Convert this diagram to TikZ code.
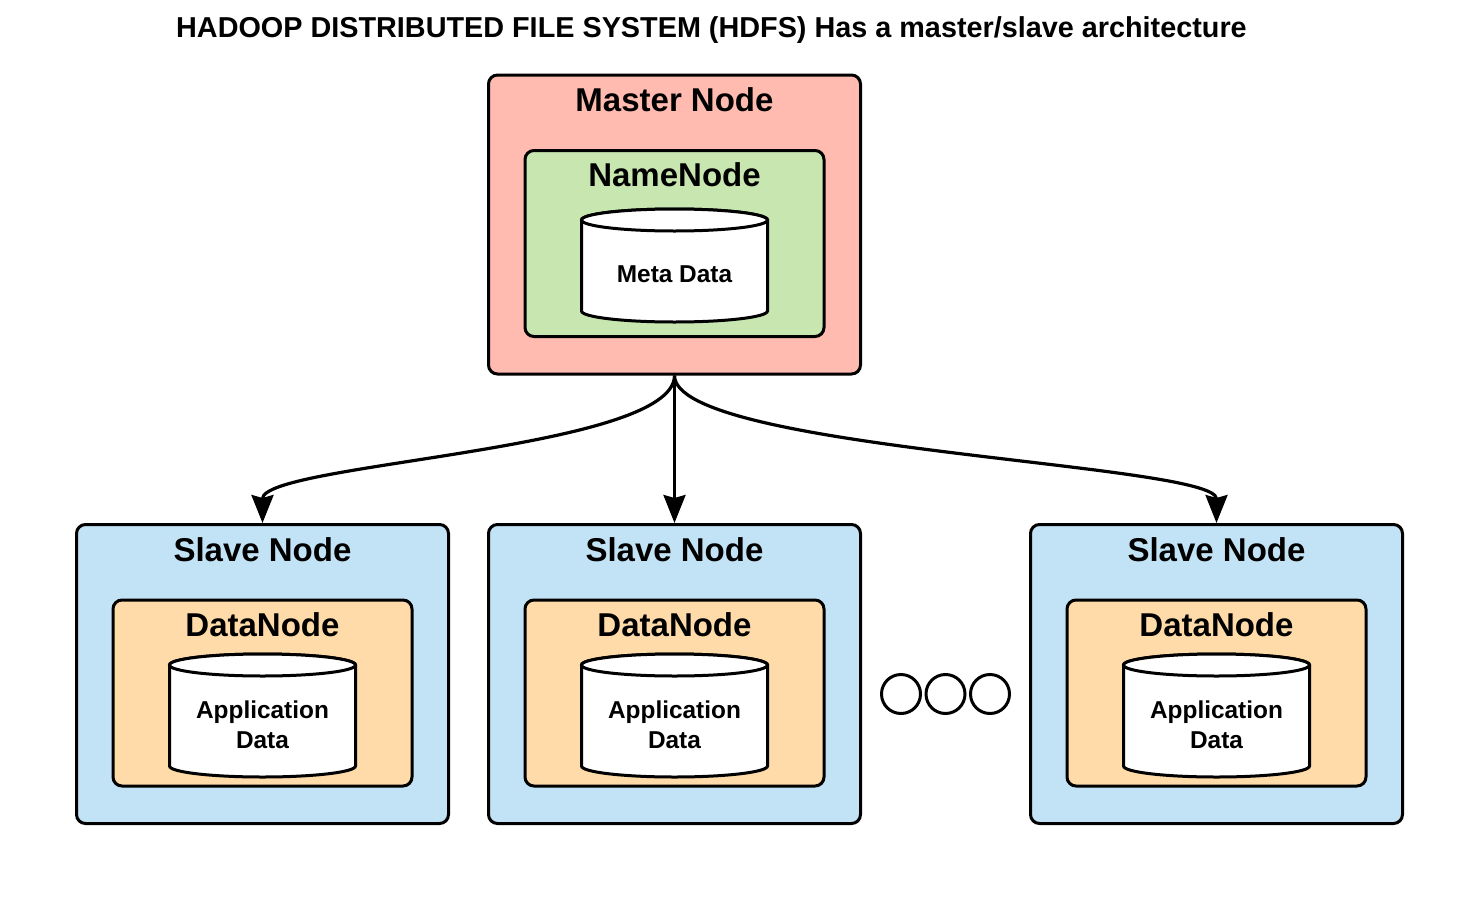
\documentclass[tikz,border=0pt]{standalone}
\usepackage{fontspec}
\setmainfont{Liberation Sans}
\usetikzlibrary{arrows.meta}
\definecolor{masterfill}{HTML}{FFBBB0}
\definecolor{namefill}{HTML}{C8E6B0}
\definecolor{slavefill}{HTML}{C2E3F5}
\definecolor{datafill}{HTML}{FEDBA8}
\newcommand\dbcyl[4]{% cx, top center y, bottom center y, name
  \filldraw[cylline] (#1-93,#2) -- (#1-93,#3)
    arc[start angle=180,end angle=360,x radius=46.5pt,y radius=5.5pt]
    -- (#1+93,#2)
    arc[start angle=0,end angle=180,x radius=46.5pt,y radius=5.5pt] -- cycle;
  \draw[cylline] (#1,#2) ellipse[x radius=46.5pt,y radius=5.5pt];
  \coordinate (#4) at (#1,#2);
}
\begin{document}
\begin{tikzpicture}[x=0.5pt,y=-0.5pt,
  box/.style={draw=black,line width=1.5pt,rounded corners=4.5pt,rectangle,inner sep=0pt},
  outerbox/.style={box,minimum width=186pt,minimum height=149.5pt},
  innerbox/.style={box,minimum width=149.5pt,minimum height=93pt},
  cylline/.style={draw=black,fill=white,line width=1.5pt},
  bigtxt/.style={font=\bfseries\fontsize{16.5pt}{19pt}\selectfont,anchor=base,inner sep=0pt},
  smalltxt/.style={font=\bfseries\fontsize{12.2pt}{15pt}\selectfont,inner sep=0pt,align=center},
  conn/.style={draw=black,line width=1.6pt,-{Stealth[length=14pt,width=11pt,inset=1.5pt]}},
  dotc/.style={circle,draw=black,line width=1.5pt,minimum size=19.5pt,inner sep=0pt}
]
\useasboundingbox (0,0) rectangle (1479,900);
\fill[white] (0,0) rectangle (1479,900);

\node[font=\bfseries\fontsize{14.4pt}{17pt}\selectfont,anchor=base,inner sep=0pt] (title) at (711.5,37.5)
  {HADOOP DISTRIBUTED FILE SYSTEM (HDFS) Has a master/slave architecture};

% master
\node[outerbox,fill=masterfill] (m) at (674.5,224.5) {};
\node[bigtxt] (mt) at (674.5,111) {Master Node};
\node[innerbox,fill=namefill] (nn) at (674.5,243.5) {};
\node[bigtxt] (nnt) at (674.5,186) {NameNode};
\dbcyl{674.5}{220}{311}{mdc}
\node[smalltxt,anchor=base] (md) at (674.5,282) {Meta Data};

% slaves
\foreach \i/\cx in {1/262.5,2/674.5,3/1216.5}{
  \node[outerbox,fill=slavefill] (s\i) at (\cx,674) {};
  \node[bigtxt] (st\i) at (\cx,561) {Slave Node};
  \node[innerbox,fill=datafill] (dn\i) at (\cx,693) {};
  \node[bigtxt] (dnt\i) at (\cx,636) {DataNode};
  \dbcyl{\cx}{665}{766}{adc\i}
  \node[smalltxt,anchor=center] (ad\i) at (\cx,725) {Application\\Data};
}

% connectors
\draw[conn] (m.south) .. controls +(0,75) and +(0,-60) .. (s1.north);
\draw[conn] (m.south) -- (s2.north);
\draw[conn] (m.south) .. controls +(0,75) and +(0,-60) .. (s3.north);

% ellipsis circles
\node[dotc] (c1) at (901,694) {};
\node[dotc] (c2) at (945.5,694) {};
\node[dotc] (c3) at (990,694) {};
\end{tikzpicture}
\end{document}
